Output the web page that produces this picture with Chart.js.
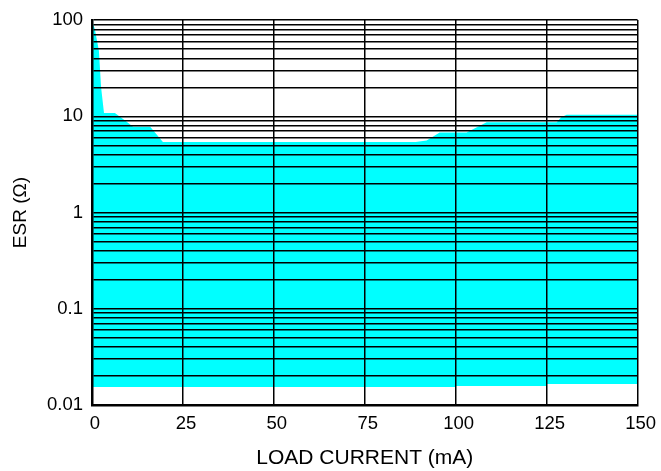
<!DOCTYPE html>
<html>
<head>
<meta charset="utf-8">
<script src="https://cdn.jsdelivr.net/npm/chart.js@4.4.1/dist/chart.umd.min.js"></script>
<style>
  body { margin: 0; background: #fff; }
  #wrap { width: 661px; height: 471px; }
</style>
</head>
<body>
<div id="wrap"><canvas id="esr" width="661" height="471"></canvas></div>
<script>
// upper edge of the stable region (load current mA, ESR ohm)
const upperX = [0, 0.8, 1.9, 2.5, 3.3, 6.3, 9, 11.3, 16, 19.5, 89, 92, 95.6, 103, 108.5, 127.8, 129, 130.5, 150];
const upperY = [100, 80, 48, 20, 10.8, 10.8, 9.1, 7.8, 7.8, 5.4, 5.4, 5.6, 6.8, 6.8, 8.7, 8.7, 9.8, 10.4, 10.4];

// lower edge
const lowerX = [0, 100, 100, 125, 125, 150];
const lowerY = [0.0154, 0.0154, 0.0158, 0.0158, 0.0165, 0.0165];

const xTicks = [0, 25, 50, 75, 100, 125, 150];
const decades = [0.01, 0.1, 1, 10];
const yLabels = [0.01, 0.1, 1, 10, 100];

// grid lines at 1..9 of each decade
let yGrid = [];
decades.forEach(d => {
    for (let m = 1; m < 10; m++) yGrid.push(+(d * m).toPrecision(3));
});
yGrid.push(100);

const FONT = "'Liberation Sans', Arial, Helvetica, sans-serif";

const toPts = (xs, ys) => xs.map((x, i) => ({ x: x, y: ys[i] }));

const ctx = document.getElementById("esr").getContext("2d");
new Chart(ctx, {
    type: 'line',
    data: {
        datasets: [
            {
                label: 'upper',
                data: toPts(upperX, upperY),
                borderWidth: 0,
                pointRadius: 0,
                backgroundColor: '#00ffff',
                fill: '+1'
            },
            {
                label: 'lower',
                data: toPts(lowerX, lowerY),
                borderWidth: 0,
                pointRadius: 0,
                fill: false
            }
        ]
    },
    options: {
        responsive: false,
        animation: false,
        layout: { padding: { top: 20, right: 23, left: 0, bottom: 0 } },
        plugins: { legend: { display: false }, tooltip: { enabled: false } },
        scales: {
            x: {
                type: 'linear',
                min: 0,
                max: 150,
                afterBuildTicks: s => { s.ticks = xTicks.map(v => ({ value: v })); },
                afterFit: s => { s.height = 66; },
                // grid and border on top of the cyan area
                grid: { color: '#000', lineWidth: 1.5, drawTicks: false, z: 1 },
                border: { color: '#000', width: 2.5, z: 1 },
                ticks: { color: '#000', padding: 8, labelOffset: 3, maxRotation: 0, font: { family: FONT, size: 18.5 } },
                title: {
                    display: true,
                    text: 'LOAD CURRENT (mA)',
                    color: '#000',
                    padding: { top: 0, bottom: 0 },
                    font: { family: FONT, size: 21 }
                }
            },
            y: {
                type: 'logarithmic',
                min: 0.01,
                max: 100,
                afterBuildTicks: s => { s.ticks = yGrid.map(v => ({ value: v })); },
                afterFit: s => { s.width = 92; },
                grid: { color: '#000', lineWidth: 1.5, drawTicks: false, z: 1 },
                border: { color: '#000', width: 2.5, z: 1 },
                ticks: {
                    color: '#000',
                    padding: 9,
                    autoSkip: false,
                    font: { family: FONT, size: 18.5 },
                    callback: v => yLabels.includes(v) ? String(v) : ''
                },
                title: {
                    display: true,
                    text: 'ESR (\u03A9)',
                    color: '#000',
                    padding: { top: 9, bottom: 0 },
                    font: { family: FONT, size: 19 }
                }
            }
        }
    }
});
</script>
</body>
</html>
